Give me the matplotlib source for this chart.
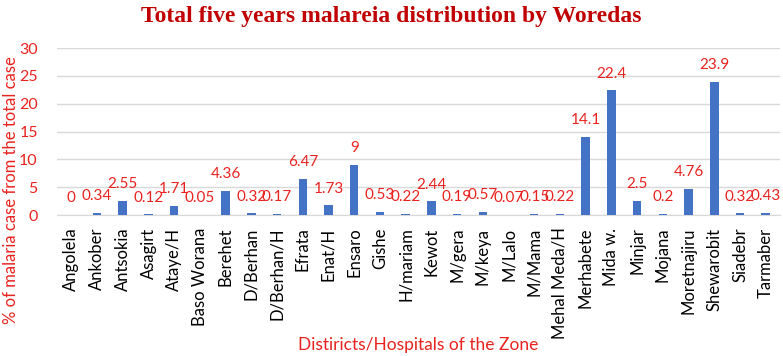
from matplotlib import pyplot as plt
import numpy as np

plt.rcParams['font.family'] = ['Lato', 'DejaVu Sans']

# data
woredas = ["Angolela", "Ankober", "Antsokia", "Asagirt", "Ataye/H", "Baso Worana",
           "Berehet", "D/Berhan", "D/Berhan/H", "Efrata", "Enat/H", "Ensaro",
           "Gishe", "H/mariam", "Kewot", "M/gera", "M/keya", "M/Lalo", "M/Mama",
           "Mehal Meda/H", "Merhabete", "Mida w.", "Minjar", "Mojana",
           "Moretnajiru", "Shewarobit", "Siadebr", "Tarmaber"]
percent = [0, 0.34, 2.55, 0.12, 1.71, 0.05, 4.36, 0.32, 0.17, 6.47, 1.73, 9,
           0.53, 0.22, 2.44, 0.19, 0.57, 0.07, 0.15, 0.22, 14.1, 22.4, 2.5, 0.2,
           4.76, 23.9, 0.32, 0.43]
yticks = [0, 5, 10, 15, 20, 25, 30]

red = "#E8231F"

fig = plt.figure(figsize=(7.83, 3.56), dpi=100)
ax = fig.add_axes([0.073, 0.396, 0.923, 0.469])

x = np.arange(len(woredas))
ax.bar(x, percent, width=0.33, color="#4472C4", zorder=3)
for xi, v in zip(x, percent):
    ax.annotate(f"{v:g}", (xi, v), xytext=(0, 7), textcoords="offset points",
                ha="center", va="bottom", color=red, fontsize=11)

ax.set_xlim(-0.55, len(woredas) - 0.45)
ax.set_ylim(0, 30)
ax.set_yticks(yticks)
ax.tick_params(axis="y", colors=red, labelsize=11.5, length=0, pad=14)
ax.set_xticks(x)
ax.set_xticklabels(woredas, rotation=90, fontsize=12)
ax.tick_params(axis="x", length=0, pad=9)
ax.grid(axis="y", color="#D9D9D9", linewidth=1, zorder=0)
for s in ["top", "right", "left"]:
    ax.spines[s].set_visible(False)
ax.spines["bottom"].set_color("#D9D9D9")

fig.text(0.004, 0.466, "% of malaria case from the total case", rotation=90,
         color=red, fontsize=12, ha="left", va="center")
fig.text(0.534, 0.03, "Distiricts/Hospitals of the Zone", color=red,
         fontsize=12.5, ha="center", va="center")
fig.text(0.5, 0.955, "Total five years malareia distribution by Woredas",
         color="#C00000", fontsize=17, fontweight="bold", ha="center",
         va="center", family="Liberation Serif")

fig.savefig("out.png", dpi=100)
